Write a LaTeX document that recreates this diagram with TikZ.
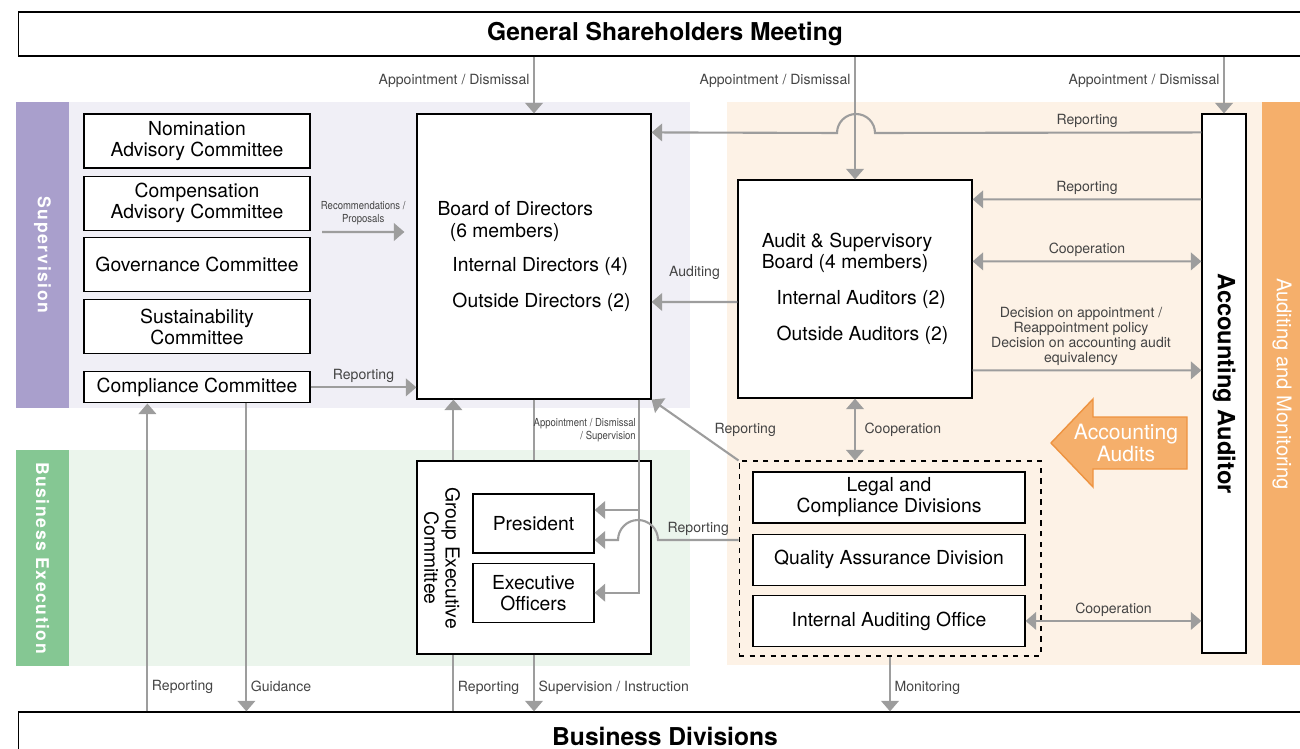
\documentclass[tikz,border=0pt]{standalone}
\usepackage{fontspec}
\setmainfont{TeX Gyre Heros}
\newfontfamily\narrowfont[FakeStretch=0.86]{TeX Gyre Heros}
\newfontfamily\spacedfont[LetterSpace=9]{TeX Gyre Heros}
\usetikzlibrary{arrows.meta,positioning}
\definecolor{supPurple}{HTML}{A99FCC}
\definecolor{supBg}{HTML}{F0EFF6}
\definecolor{exeGreen}{HTML}{85C793}
\definecolor{exeBg}{HTML}{EBF5EC}
\definecolor{audOrange}{HTML}{F5AF6B}
\definecolor{audBg}{HTML}{FDF2E6}
\definecolor{arrEdge}{HTML}{EE9340}
\definecolor{lineGray}{HTML}{9D9D9D}
\definecolor{labelGray}{HTML}{444444}
\tikzstyle{box} = [ rectangle, draw = black, line width = 0.7pt, fill = white, %
                    align = center, inner sep = 0pt, %
                    font = \fontsize{11}{12}\selectfont ]
\tikzstyle{cbox} = [ box, minimum width = 45.2mm, minimum height = 10.8mm ]
\tikzstyle{arrow} = [color = lineGray, line width = 1.2pt, %
                     -{Triangle[length=6pt,width=10pt]}]
\tikzstyle{twoway} = [arrow, {Triangle[length=6pt,width=10pt]}-{Triangle[length=6pt,width=10pt]}]
\tikzstyle{link} = [color = lineGray, line width = 1.2pt]
\tikzstyle{lbl} = [text = labelGray, inner sep = 2pt, %
                   font = \fontsize{8}{8.6}\selectfont]
\tikzstyle{tiny} = [text = labelGray, inner sep = 1pt, %
                    font = \narrowfont\fontsize{6.3}{7.4}\selectfont]
\tikzstyle{side} = [text = white, rotate = -90, %
                    font = \spacedfont\bfseries\fontsize{10}{12}\selectfont]
\newcommand{\titlefont}{\bfseries\fontsize{14}{16}\selectfont}

\begin{document}
\begin{tikzpicture}[x=0.02cm, y=0.02cm]
      \useasboundingbox (0,0) rectangle (1300,-749);
      % Bands
      \fill[supBg] (69,-102) rectangle (690,-408);
      \fill[supPurple] (16,-102) rectangle (69,-408);
      \fill[exeBg] (69,-450) rectangle (690,-666);
      \fill[exeGreen] (16,-450) rectangle (69,-666);
      \fill[audBg] (727,-102) rectangle (1262,-665);
      \fill[audOrange] (1262,-102) rectangle (1300,-665);
      \node (suplbl) [side] at (42.5,-255) {Supervision};
      \node (exelbl) [side] at (42.5,-558) {Business Execution};
      \node (audlbl) [side, font = \fontsize{11.5}{13}\selectfont] %
        at (1282,-384) {Auditing and Monitoring};
      % Boxes
      \node (gsm) [box, minimum width = 258.8mm, minimum height = 8.8mm, %
        font = \titlefont] at (665,-34) {General Shareholders Meeting};
      \node (busdiv) [box, minimum width = 258.8mm, minimum height = 9.6mm, %
        font = \titlefont] at (665,-736) {Business Divisions};
      \node (nomination) [cbox] at (197,-141) {Nomination\\Advisory Committee};
      \node (compensation) [cbox, below = 1.4mm of nomination] %
        {Compensation\\Advisory Committee};
      \node (governance) [cbox, below = 1.2mm of compensation] {Governance Committee};
      \node (sustain) [cbox, below = 1.4mm of governance] {Sustainability\\Committee};
      \node (compliance) [cbox, minimum height = 6.2mm, below = 3.4mm of sustain] %
        {Compliance Committee};
      \node (board) [box, align = left, minimum width = 46.8mm, minimum height = 57mm, %
        font = \fontsize{11}{12.5}\selectfont] at (534,-256.5)
        {Board of Directors\\
         \hspace*{7pt}(6 members)\\[7.3pt]
         \hspace*{8.5pt}Internal Directors (4)\\[7.9pt]
         \hspace*{8.5pt}Outside Directors (2)};
      \node (asb) [box, align = left, minimum width = 46.8mm, minimum height = 43.6mm] %
        at (855,-289)
        {Audit \& Supervisory\\
         Board (4 members)\\[8.5pt]
         \hspace*{8.5pt}Internal Auditors (2)\\[8.5pt]
         \hspace*{8.5pt}Outside Auditors (2)};
      \node (auditor) [box, minimum width = 8.8mm, minimum height = 107.8mm, %
        label = {[rotate=-90, font=\bfseries\fontsize{13.5}{15}\selectfont]center:Accounting Auditor}] %
        at (1224,-383.5) {};
      \node (gec) [box, minimum width = 46.8mm, minimum height = 38.6mm] at (534,-557.5) {};
      \node (gectxt) [rotate = -90, align = center, font = \fontsize{11}{12}\selectfont] %
        at (442,-558) {Group Executive\\Committee};
      \node (president) [box, minimum width = 24.2mm, minimum height = 11.8mm] %
        at (533.5,-523.5) {President};
      \node (officers) [box, minimum width = 24.2mm, minimum height = 11.8mm, %
        below = 1.8mm of president] {Executive\\Officers};
      \node (ctrl) [draw, dashed, line width = 0.6pt, minimum width = 60.4mm, %
        minimum height = 39mm] at (890,-558.5) {};
      \node (legal) [box, minimum width = 54.4mm, minimum height = 10.2mm] %
        at (889,-497.5) {Legal and\\Compliance Divisions};
      \node (quality) [box, minimum width = 54.4mm, minimum height = 10.2mm, %
        below = 2mm of legal] {Quality Assurance Division};
      \node (internal) [box, minimum width = 54.4mm, minimum height = 10.2mm, %
        below = 1.8mm of quality] {Internal Auditing Office};
      % Accounting audits arrow
      \draw[fill = audOrange, draw = arrEdge, line width = 0.8pt] %
        (1187,-417) -- (1093,-417) -- (1093,-399) -- (1051,-443) -- (1093,-487) %
        -- (1093,-469) -- (1187,-469) -- cycle;
      \node (audits) [text = white, align = center, font = \fontsize{12}{11}\selectfont] %
        at (1126,-443) {Accounting\\Audits};
      % Helper coordinates
      \coordinate (recstart) at (322,-232);
      \coordinate (repx) at ([xshift=12.8mm]compliance.south west);
      \coordinate (guidx) at ([xshift=32.6mm]compliance.south west);
      \coordinate (gecbot) at ([xshift=7.4mm]gec.south west);
      \coordinate (gectop) at ([xshift=7.4mm]gec.north west);
      % Arrows
      \draw [arrow] (gsm.south -| board.north) -- %
        node[lbl, left, pos=.42] {Appointment / Dismissal} (board.north);
      \draw [arrow] (gsm.south -| asb.north) -- %
        node[lbl, left, pos=.2] {Appointment / Dismissal} (asb.north);
      \draw [arrow] (gsm.south -| auditor.north) -- %
        node[lbl, left, pos=.42] {Appointment / Dismissal} (auditor.north);
      \draw [arrow] ([yshift=-3.8mm]auditor.north west) -- %
        node[lbl, above, pos=.35] {Reporting} (875,-133) %
        arc[start angle=0, end angle=180, radius=3.8mm] -- ([yshift=-3.8mm]board.north east);
      \draw [arrow] ([yshift=-17.2mm]auditor.north west) -- %
        node[lbl, above] {Reporting} ([yshift=-4mm]asb.north east);
      \draw [twoway] ([yshift=-16.4mm]asb.north east) -- %
        node[lbl, above] {Cooperation} ([yshift=-29.6mm]auditor.north west);
      \draw [arrow] ([yshift=-38.2mm]asb.north east) -- %
        node[lbl, above, align=center, xshift=-1.2mm] %
        {Decision on appointment /\\Reappointment policy\\%
         Decision on accounting audit\\equivalency} %
        ([yshift=-51.4mm]auditor.north west);
      \draw [arrow] ([yshift=-2.6mm]asb.west) -- %
        node[lbl, above=3.5mm] {Auditing} ([yshift=-9.1mm]board.east);
      \draw [arrow] (recstart) -- %
        node[tiny, above=0.8mm, align=center] {Recommendations /\\Proposals} %
        ([xshift=-2.4mm, yshift=4.9mm]board.west);
      \draw [arrow] (compliance.east) -- %
        node[lbl, above] {Reporting} (compliance.east -| board.west);
      \draw [link] (board.south) -- (gec.north);
      \draw [arrow] ([xshift=-2.6mm]board.south east) |- %
        node[tiny, left, align=right, pos=.14] {Appointment / Dismissal\\/ Supervision} %
        ([yshift=2.7mm]president.east);
      \draw [arrow] ([xshift=-2.6mm]board.south east) |- (officers.east);
      \draw [arrow] ([yshift=3.7mm]ctrl.west) -- %
        node[lbl, above] {Reporting} (658,-540) %
        arc[start angle=0, end angle=180, radius=4mm] -- ([yshift=-3.3mm]president.east);
      \draw [arrow] (ctrl.north west) -- %
        node[lbl, right=3mm] {Reporting} (board.south east);
      \draw [twoway] (asb.south) -- %
        node[lbl, right=1mm] {Cooperation} (asb.south |- ctrl.north);
      \draw [twoway] (internal.east) -- %
        node[lbl, above] {Cooperation} (internal.east -| auditor.west);
      \draw [arrow] (ctrl.south) -- %
        node[lbl, right, pos=.57] {Monitoring} (ctrl.south |- busdiv.north);
      \draw [arrow] (repx |- busdiv.north) -- %
        node[lbl, right, pos=.08] {Reporting} (repx);
      \draw [arrow] (guidx) -- %
        node[lbl, right, pos=.92] {Guidance} (guidx |- busdiv.north);
      \draw [link] (gecbot |- busdiv.north) -- %
        node[lbl, right, pos=.41] {Reporting} (gecbot);
      \draw [arrow] (gectop) -- (gectop |- board.south);
      \draw [arrow] (gec.south) -- %
        node[lbl, right, pos=.59] {Supervision / Instruction} (gec.south |- busdiv.north);
\end{tikzpicture}
\end{document}
